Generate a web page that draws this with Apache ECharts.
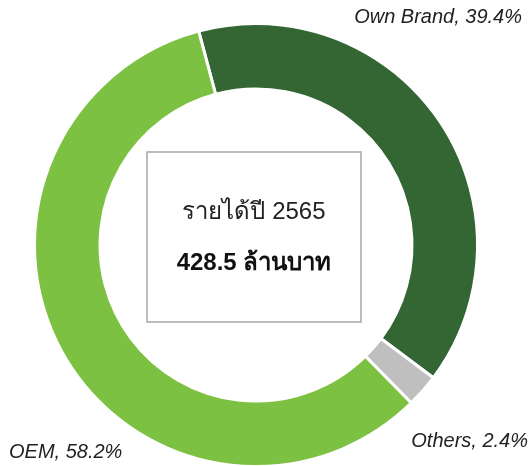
<!DOCTYPE html>
<html>
<head>
<meta charset="utf-8">
<script src="https://cdn.jsdelivr.net/npm/echarts@6/dist/echarts.min.js"></script>
<style>html,body{margin:0;padding:0;background:#fff}#c{width:531px;height:466px}</style>
</head>
<body>
<div id="c"></div>
<script>
const categories = ['Own Brand', 'Others', 'OEM'];
const shares = [39.4, 2.4, 58.2];
const sliceColors = ['#346634', '#bfbfbf', '#7dc142'];
const centerTitle = 'รายได้ปี 2565';
const centerValue = '428.5 ล้านบาท';

const chart = echarts.init(document.getElementById('c'), null, {renderer: 'canvas'});
const labelPos = [
  {x: 522, y: 17, align: 'right'},
  {x: 528, y: 441, align: 'right'},
  {x: 9, y: 452, align: 'left'}
];
chart.setOption({
  animation: false,
  series: [{
    type: 'pie',
    center: [256, 245],
    radius: [156, 221.5],
    startAngle: 105,
    clockwise: true,
    avoidLabelOverlap: false,
    itemStyle: {borderColor: '#fff', borderWidth: 3},
    label: {
      show: true,
      position: 'outside',
      fontFamily: 'Liberation Sans, Arial, sans-serif',
      fontStyle: 'italic',
      fontSize: 20,
      color: '#222',
      formatter: p => p.name + ', ' + p.value.toFixed(1) + '%'
    },
    labelLine: {show: false},
    labelLayout: p => ({x: labelPos[p.dataIndex].x, y: labelPos[p.dataIndex].y, align: labelPos[p.dataIndex].align, verticalAlign: 'middle'}),
    data: categories.map((c, i) => ({name: c, value: shares[i], itemStyle: {color: sliceColors[i]}}))
  }],
  graphic: [
    {type: 'rect', shape: {x: 147, y: 152, width: 214, height: 170}, style: {fill: '#fff', stroke: '#a6a6a6', lineWidth: 1.5}},
    {type: 'text', x: 254, y: 212, style: {text: centerTitle, fill: '#222', font: '24px "Liberation Sans", Arial, sans-serif', align: 'center', verticalAlign: 'middle'}},
    {type: 'text', x: 254, y: 263, style: {text: centerValue, fill: '#111', font: 'bold 24px "Liberation Sans", Arial, sans-serif', align: 'center', verticalAlign: 'middle'}}
  ]
});
</script>
</body>
</html>
